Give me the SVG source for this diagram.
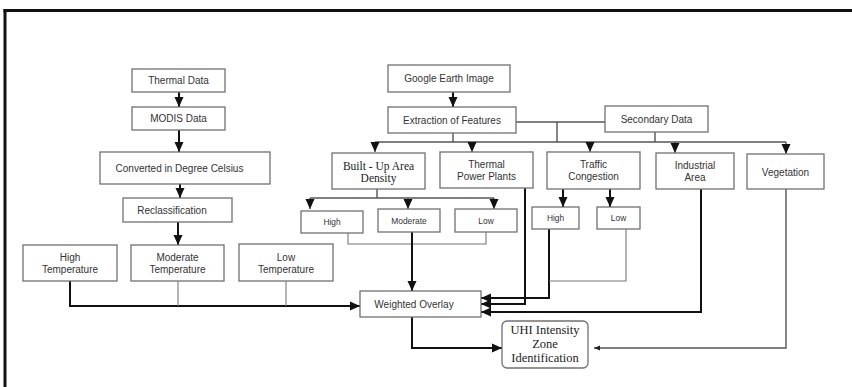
<svg xmlns="http://www.w3.org/2000/svg" width="852" height="387" viewBox="0 0 852 387">
<style>
.box{fill:#fff;stroke:#707070;stroke-width:1.3}
.t{font-family:"Liberation Sans",Arial,sans-serif;font-size:10px;fill:#333;text-anchor:middle}
.s{font-size:8.4px}
.sf{font-family:"Liberation Serif","Times New Roman",serif;fill:#222;text-anchor:middle}
.thick{fill:none;stroke:#111;stroke-width:2}
.thin{fill:none;stroke:#777;stroke-width:1.1}
.med{fill:none;stroke:#555;stroke-width:1.4}
</style>
<defs>
<marker id="ah" markerUnits="userSpaceOnUse" markerWidth="10" markerHeight="10" viewBox="0 0 10 10" refX="10" refY="5" orient="auto">
<path d="M0,0.5 L10,5 L0,9.5 z" fill="#111"/>
</marker>
<marker id="sm" markerUnits="userSpaceOnUse" markerWidth="6" markerHeight="6" viewBox="0 0 6 6" refX="6" refY="3" orient="auto">
<path d="M0,0.5 L6,3 L0,5.5 z" fill="#222"/>
</marker>
</defs>
<rect width="852" height="387" fill="#fff"/>
<g id="frame">
<line x1="3.5" y1="10.5" x2="852" y2="10.5" stroke="#111" stroke-width="3"/>
<line x1="5" y1="9" x2="5" y2="387" stroke="#111" stroke-width="3"/>
</g>
<g id="connectors">
<path class="thick" d="M179,92 V107" marker-end="url(#ah)"/>
<path class="thick" d="M179,130 V152" marker-end="url(#ah)"/>
<path class="thick" d="M180,184 V198" marker-end="url(#ah)"/>
<path class="thick" d="M178,222 V245" marker-end="url(#ah)"/>
<path class="thick" d="M70,281 V306 H360" marker-end="url(#ah)"/>
<path class="thin" d="M178,281 V306"/>
<path class="thin" d="M286,281 V306"/>
<path class="thick" d="M453,92 V107" marker-end="url(#ah)"/>
<path class="med" d="M453,133 V142"/>
<path class="med" d="M375,142 H786"/>
<path class="med" d="M516,122 H605"/>
<path class="med" d="M557,122 V142"/>
<path class="med" d="M655,132 V142"/>
<path class="med" d="M375,142 V152" marker-end="url(#ah)"/>
<path class="med" d="M472,142 V152" marker-end="url(#ah)"/>
<path class="med" d="M590,142 V152" marker-end="url(#ah)"/>
<path class="med" d="M675,142 V153" marker-end="url(#ah)"/>
<path class="med" d="M786,142 V154" marker-end="url(#ah)"/>
<path class="med" d="M377,189 V198"/>
<path class="med" d="M310,198 H494"/>
<path class="med" d="M310,198 V209" marker-end="url(#ah)"/>
<path class="med" d="M408,198 V209" marker-end="url(#ah)"/>
<path class="med" d="M494,198 V209" marker-end="url(#ah)"/>
<path class="thin" d="M348,233 V244 H486 V232"/>
<path class="thick" d="M412,232 V291" marker-end="url(#ah)"/>
<path class="thick" d="M525,188 V304 H481" marker-end="url(#ah)"/>
<path class="thick" d="M563,189 V207" marker-end="url(#ah)"/>
<path class="thick" d="M610,189 V207" marker-end="url(#ah)"/>
<path class="thick" d="M549,229 V298 H481" marker-end="url(#ah)"/>
<path class="thin" d="M626,229 V281 H549"/>
<path class="thick" d="M701,189 V312 H481" marker-end="url(#ah)"/>
<path class="med" d="M786,189 V348 H594" marker-end="url(#sm)"/>
<path class="thick" d="M412,317 V348 H502" marker-end="url(#ah)"/>
</g>
<g id="thermal-data"><rect class="box" x="132" y="69" width="93" height="23"/><text class="t" x="178.5" y="84">Thermal Data</text></g>
<g id="modis-data"><rect class="box" x="132" y="107" width="93" height="23"/><text class="t" x="178.5" y="122">MODIS Data</text></g>
<g id="converted"><rect class="box" x="100" y="152" width="170" height="32"/><text class="t" x="179.5" y="171.5">Converted in Degree Celsius</text></g>
<g id="reclassification"><rect class="box" x="123" y="198" width="109" height="24"/><text class="t" x="172" y="213.5">Reclassification</text></g>
<g id="high-temp"><rect class="box" x="23" y="245" width="94" height="36"/><text class="t" x="70" y="260.5">High</text><text class="t" x="70" y="272.5">Temperature</text></g>
<g id="moderate-temp"><rect class="box" x="131" y="245" width="93" height="36"/><text class="t" x="177.5" y="260.5">Moderate</text><text class="t" x="177.5" y="272.5">Temperature</text></g>
<g id="low-temp"><rect class="box" x="239" y="244" width="94" height="37"/><text class="t" x="286" y="260.5">Low</text><text class="t" x="286" y="272.5">Temperature</text></g>
<g id="google-earth"><rect class="box" x="388" y="65" width="122" height="27"/><text class="t" x="449" y="82">Google Earth Image</text></g>
<g id="extraction"><rect class="box" x="388" y="107" width="128" height="26"/><text class="t" x="452" y="123.5">Extraction of Features</text></g>
<g id="secondary-data"><rect class="box" x="605" y="106" width="103" height="26"/><text class="t" x="656.5" y="122.5">Secondary Data</text></g>
<g id="built-up"><rect class="box" x="332" y="153" width="93" height="36"/><text class="sf" x="378.5" y="169.5" font-size="11.5">Built - Up Area</text><text class="sf" x="378.5" y="182" font-size="11.5">Density</text></g>
<g id="thermal-power"><rect class="box" x="440" y="152" width="93" height="36"/><text class="t" x="486.5" y="168">Thermal</text><text class="t" x="486.5" y="180">Power Plants</text></g>
<g id="traffic"><rect class="box" x="547" y="152" width="93" height="37"/><text class="t" x="593.5" y="168">Traffic</text><text class="t" x="593.5" y="180">Congestion</text></g>
<g id="industrial"><rect class="box" x="656" y="153" width="78" height="36"/><text class="t" x="695" y="169">Industrial</text><text class="t" x="695" y="181">Area</text></g>
<g id="vegetation"><rect class="box" x="747" y="154" width="77" height="35"/><text class="t" x="785.5" y="175.5" font-size="11.3">Vegetation</text></g>
<g id="bu-high"><rect class="box" x="301" y="211" width="62" height="22"/><text class="t s" x="332" y="225">High</text></g>
<g id="bu-moderate"><rect class="box" x="378" y="209" width="62" height="23"/><text class="t s" x="409" y="223.5">Moderate</text></g>
<g id="bu-low"><rect class="box" x="455" y="209" width="62" height="23"/><text class="t s" x="486" y="223.5">Low</text></g>
<g id="tc-high"><rect class="box" x="532" y="207" width="47" height="22"/><text class="t s" x="555.5" y="221">High</text></g>
<g id="tc-low"><rect class="box" x="597" y="207" width="43" height="22"/><text class="t s" x="618.5" y="221">Low</text></g>
<g id="weighted-overlay"><rect class="box" x="360" y="291" width="121" height="26"/><text class="t" x="414" y="307.5" font-size="9.6">Weighted Overlay</text></g>
<g id="uhi"><rect class="box" x="502" y="321" width="86" height="47" rx="5"/><text class="sf" x="545" y="333.5" font-size="12.5">UHI Intensity</text><text class="sf" x="545" y="347.5" font-size="12.5">Zone</text><text class="sf" x="545" y="361.5" font-size="12.5">Identification</text></g>
</svg>
